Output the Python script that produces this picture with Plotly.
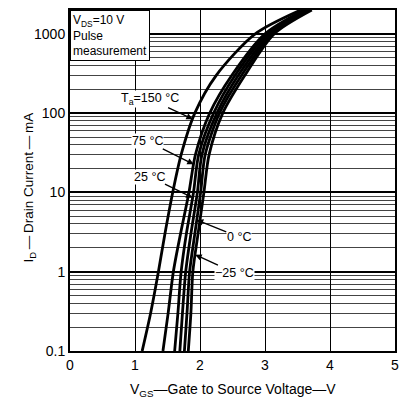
import numpy as np
import plotly.graph_objects as go

# Drain current levels (mA) at which gate voltages were read
currents_ma = [0.1, 0.3, 1, 3, 10, 30, 100, 300, 1000, 2000]

# Gate-source voltage (V) for each curve at the above currents
vgs_150 = [1.11, 1.24, 1.36, 1.46, 1.58, 1.71, 1.92, 2.25, 2.85, 3.55]
vgs_75 = [1.43, 1.51, 1.59, 1.70, 1.83, 1.93, 2.15, 2.49, 3.00, 3.60]
vgs_25 = [1.61, 1.66, 1.71, 1.79, 1.90, 1.98, 2.21, 2.54, 3.04, 3.63]
vgs_10 = [1.69, 1.73, 1.78, 1.86, 1.96, 2.03, 2.26, 2.59, 3.08, 3.66]
vgs_0 = [1.76, 1.80, 1.84, 1.92, 2.01, 2.08, 2.30, 2.64, 3.11, 3.69]
vgs_m25 = [1.82, 1.86, 1.89, 1.97, 2.06, 2.14, 2.35, 2.69, 3.14, 3.72]

curves = [vgs_150, vgs_75, vgs_25, vgs_10, vgs_0, vgs_m25]
curve_labels = ["T<sub>a</sub>=150 °C", "75 °C", "25 °C", None, "0 °C", "−25 °C"]
# current (mA) where each label's arrow meets its curve, and text offset (px)
label_at_ma = [84, 22.6, 8.6, None, 4.5, 1.64]
label_offset = [(-43, -20), (-46, -23), (-43, -21), None, (42, 17), (39, 18)]

x_ticks = [0, 1, 2, 3, 4, 5]
y_ticks = [0.1, 1, 10, 100, 1000]
y_tick_text = ["0.1", "1", "10", "100", "1000"]
y_minor = [m * 10.0 ** k for k in range(-1, 4) for m in range(2, 10) if m * 10.0 ** k <= 2000]

FONT = "Liberation Sans, Arial, sans-serif"

fig = go.Figure()
for v in curves:
    fig.add_trace(go.Scatter(x=v, y=currents_ma, mode="lines",
                             line=dict(color="black", width=2.8, shape="spline", smoothing=0.8),
                             showlegend=False, hoverinfo="skip"))

logc = np.log10(currents_ma)
for v, lab, at, off in zip(curves, curve_labels, label_at_ma, label_offset):
    if lab is None:
        continue
    xv = float(np.interp(np.log10(at), logc, v))
    fig.add_annotation(x=xv, y=np.log10(at), xref="x", yref="y", text=lab,
                       showarrow=True, arrowhead=2, arrowsize=1, arrowwidth=1.3,
                       arrowcolor="black", ax=off[0], ay=off[1],
                       bgcolor="white", borderpad=0,
                       font=dict(family=FONT, size=12.5, color="black"))

fig.add_annotation(xref="paper", yref="paper", x=0, y=1, xanchor="left", yanchor="top",
                   text="V<sub>DS</sub>=10 V<br>Pulse<br>measurement", align="left",
                   showarrow=False, bgcolor="white", bordercolor="black", borderwidth=1,
                   borderpad=2, font=dict(family=FONT, size=12, color="black"))

fig.add_annotation(xref="paper", yref="paper", x=-0.158, y=0.48, textangle=-90,
                   text="I<sub>D</sub>\u2009—\u2009Drain Current\u2009—\u2009mA", showarrow=False,
                   font=dict(family=FONT, size=13.5, color="black"))
fig.add_annotation(xref="paper", yref="paper", x=0.5, y=-0.114, yanchor="middle",
                   text="V<sub>GS</sub>—Gate to Source Voltage—V", showarrow=False,
                   font=dict(family=FONT, size=14, color="black"))

fig.update_xaxes(range=[0, 5], tickvals=x_ticks, showgrid=True, gridcolor="black", gridwidth=1.2,
                 showline=True, linecolor="black", linewidth=2, mirror=True, ticks="",
                 zeroline=False, tickfont=dict(family=FONT, size=14, color="black"))
fig.update_yaxes(type="log", range=[-1, np.log10(2000)], tickvals=y_ticks, ticktext=y_tick_text,
                 showgrid=True, gridcolor="black", gridwidth=1.5,
                 minor=dict(tickvals=y_minor, showgrid=True, gridcolor="#444444", gridwidth=1, ticks=""),
                 showline=True, linecolor="black", linewidth=2, mirror=True, ticks="",
                 zeroline=False, tickfont=dict(family=FONT, size=14, color="black"))

fig.update_layout(width=403, height=403, margin=dict(l=70, r=4, t=10, b=52),
                  plot_bgcolor="white", paper_bgcolor="white", showlegend=False)

fig.write_html("out.html", config={"displayModeBar": False},
               post_script="document.body.style.margin='0';document.body.style.overflow='hidden';")
